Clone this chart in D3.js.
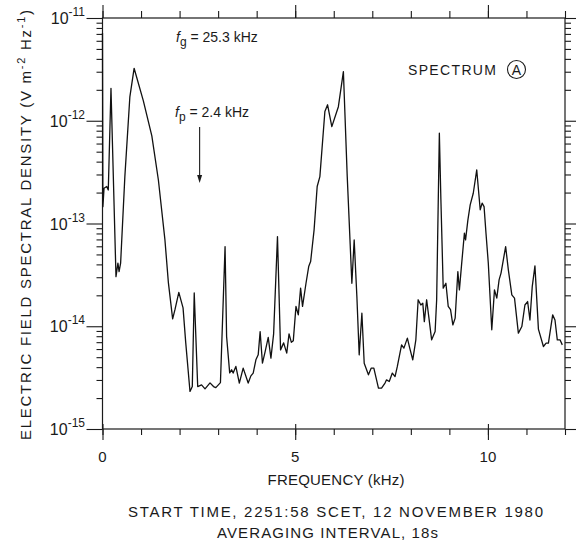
<!DOCTYPE html>
<html>
<head>
<meta charset="utf-8">
<script src="https://cdn.jsdelivr.net/npm/d3@7"></script>
<style>
  body { margin: 0; background: #fff; }
  text { font-family: "Liberation Sans", Arial, sans-serif; fill: #1a1a1a; }
  .tick line { stroke: #1a1a1a; stroke-width: 1.1; }
</style>
</head>
<body>
<svg id="spectrum"></svg>
<script>
// frequency (kHz) and electric field spectral density (V^2 m^-2 Hz^-1)
const freq = [0.00, 0.01, 0.04, 0.11, 0.15, 0.22, 0.35, 0.40, 0.43, 0.47,
  0.58, 0.71, 0.82, 1.06, 1.28, 1.45, 1.62, 1.71, 1.82, 1.88,
  1.98, 2.09, 2.16, 2.27, 2.33, 2.38, 2.47, 2.57, 2.66, 2.79,
  2.88, 2.94, 3.06, 3.18, 3.22, 3.30, 3.35, 3.39, 3.46, 3.55,
  3.65, 3.78, 3.85, 3.91, 3.98, 4.04, 4.09, 4.15, 4.22, 4.30,
  4.37, 4.44, 4.54, 4.62, 4.70, 4.78, 4.84, 4.90, 4.95, 5.02,
  5.08, 5.14, 5.19, 5.28, 5.35, 5.40, 5.49, 5.57, 5.64, 5.77,
  5.84, 5.95, 6.12, 6.25, 6.35, 6.47, 6.53, 6.60, 6.66, 6.73,
  6.79, 6.90, 6.97, 7.04, 7.16, 7.24, 7.33, 7.37, 7.44, 7.52,
  7.59, 7.65, 7.76, 7.82, 7.91, 7.97, 8.05, 8.13, 8.19, 8.26,
  8.31, 8.35, 8.41, 8.47, 8.54, 8.63, 8.67, 8.74, 8.78, 8.84,
  8.91, 8.97, 9.03, 9.09, 9.15, 9.22, 9.26, 9.32, 9.39, 9.42,
  9.48, 9.54, 9.62, 9.71, 9.80, 9.85, 9.90, 9.95, 10.01, 10.10,
  10.17, 10.23, 10.29, 10.34, 10.40, 10.46, 10.53, 10.62, 10.69, 10.79,
  10.88, 10.96, 11.03, 11.09, 11.15, 11.22, 11.31, 11.44, 11.51, 11.57,
  11.68, 11.74, 11.80, 11.87, 11.93];

const density = [7.14e-12, 1.46e-13, 2.20e-13, 2.29e-13, 2.12e-13, 2.07e-12, 3.04e-14, 4.11e-14, 3.40e-14, 4.11e-14,
  2.86e-13, 1.71e-12, 3.24e-12, 1.56e-12, 7.11e-13, 2.65e-13, 6.92e-14, 2.64e-14, 1.18e-14, 1.45e-14,
  2.14e-14, 1.51e-14, 6.89e-15, 2.32e-15, 2.59e-15, 2.11e-14, 2.59e-15, 2.69e-15, 2.46e-15, 2.81e-15,
  2.59e-15, 2.53e-15, 2.83e-15, 5.96e-14, 7.94e-15, 3.52e-15, 3.77e-15, 3.50e-15, 4.06e-15, 2.80e-15,
  3.91e-15, 2.80e-15, 3.29e-15, 3.50e-15, 4.71e-15, 5.27e-15, 8.87e-15, 4.37e-15, 5.67e-15, 7.80e-15,
  4.90e-15, 8.43e-15, 7.46e-14, 5.89e-15, 6.89e-15, 5.47e-15, 8.43e-15, 6.97e-15, 7.21e-15, 1.56e-14,
  1.29e-14, 2.35e-14, 1.56e-14, 2.62e-14, 3.81e-14, 4.26e-14, 8.67e-14, 2.29e-13, 2.86e-13, 1.23e-12,
  1.43e-12, 8.77e-13, 1.37e-12, 3.01e-12, 2.86e-13, 2.62e-14, 6.92e-14, 1.95e-14, 5.27e-15, 1.34e-14,
  4.37e-15, 3.37e-15, 3.91e-15, 3.91e-15, 2.50e-15, 2.50e-15, 2.80e-15, 3.01e-15, 2.90e-15, 3.50e-15,
  3.24e-15, 4.06e-15, 6.59e-15, 6.12e-15, 7.66e-15, 6.17e-15, 4.71e-15, 7.38e-15, 1.81e-14, 1.61e-14,
  1.68e-14, 1.11e-14, 1.81e-14, 1.20e-14, 7.38e-15, 8.87e-15, 1.81e-14, 7.56e-13, 1.70e-13, 2.35e-14,
  2.62e-14, 1.56e-14, 1.45e-14, 1.03e-14, 1.20e-14, 3.40e-14, 2.26e-14, 4.11e-14, 8.05e-14, 6.92e-14,
  1.08e-13, 1.52e-13, 1.97e-13, 3.32e-13, 1.36e-13, 1.58e-13, 1.46e-13, 8.05e-14, 4.11e-14, 9.23e-15,
  2.26e-14, 1.88e-14, 2.83e-14, 3.29e-14, 4.43e-14, 5.96e-14, 3.54e-14, 2.02e-14, 1.88e-14, 8.57e-15,
  9.93e-15, 1.61e-14, 1.74e-14, 1.15e-14, 2.43e-14, 3.87e-14, 9.38e-15, 6.35e-15, 6.85e-15, 6.85e-15,
  1.29e-14, 1.15e-14, 7.38e-15, 7.38e-15, 6.59e-15];

const xTicks = [0, 1, 2, 3, 4, 5, 6, 7, 8, 9, 10, 11, 12];
const xMajor = [0, 5, 10];
const decades = [1e-15, 1e-14, 1e-13, 1e-12, 1e-11];
const decadeExp = ["-15", "-14", "-13", "-12", "-11"];
const fpArrowFreq = 2.52;

const svgWidth = 578, svgHeight = 545;
const plotLeft = 102.5, plotRight = 565, plotTop = 18, plotBottom = 429;

const svg = d3.select("#spectrum")
  .attr("width", svgWidth)
  .attr("height", svgHeight);

const x = d3.scaleLinear().domain([0, 12]).range([plotLeft, plotRight]);
const y = d3.scaleLog().domain([1e-15, 1e-11]).range([plotBottom, plotTop]);

// minor log ticks, 2..9 in each decade
const yMinor = [];
decades.slice(0, -1).forEach(function (d) {
  for (let k = 2; k <= 9; k++) yMinor.push(d * k);
});

function axis(gen, values, size, tx, ty) {
  const g = svg.append("g")
    .attr("transform", "translate(" + tx + "," + ty + ")")
    .call(gen.tickValues(values).tickSize(size).tickSizeOuter(0).tickFormat(""));
  g.select(".domain").remove();
  return g;
}

axis(d3.axisBottom(x), xTicks, 6, 0, plotBottom);
axis(d3.axisBottom(x), xMajor, 11, 0, plotBottom).selectAll("line").attr("y1", -5);
axis(d3.axisTop(x), xTicks, 7, 0, plotTop);
axis(d3.axisTop(x), xMajor, 13, 0, plotTop);
axis(d3.axisLeft(y), yMinor, 6, plotLeft, 0);
axis(d3.axisLeft(y), decades, 16, plotLeft, 0);
axis(d3.axisRight(y), yMinor, 6, plotRight, 0);
axis(d3.axisRight(y), decades, 11, plotRight, 0);

svg.append("rect")
  .attr("x", plotLeft).attr("y", plotTop)
  .attr("width", plotRight - plotLeft).attr("height", plotBottom - plotTop)
  .attr("fill", "none").attr("stroke", "#1a1a1a").attr("stroke-width", 1.2);

// tick labels
svg.selectAll(".xlab")
  .data(xMajor)
  .enter()
  .append("text")
  .attr("x", function (d) { return x(d); })
  .attr("y", 462)
  .attr("text-anchor", "middle")
  .attr("font-size", 15)
  .text(function (d) { return d; });

const ylab = svg.selectAll(".ylab")
  .data(decades)
  .enter()
  .append("text")
  .attr("x", 85)
  .attr("y", function (d) { return y(d) + 6; })
  .attr("text-anchor", "end")
  .attr("font-size", 16);
ylab.append("tspan").text("10");
ylab.append("tspan")
  .attr("dy", -8)
  .attr("font-size", 12)
  .text(function (d, i) { return decadeExp[i]; });

// the spectrum
const line = d3.line()
  .x(function (d, i) { return x(freq[i]); })
  .y(function (d) { return y(d); });

svg.append("path")
  .datum(density)
  .attr("d", line)
  .attr("fill", "none")
  .attr("stroke", "#111")
  .attr("stroke-width", 1.3)
  .attr("stroke-linejoin", "round");

// axis titles
svg.append("text")
  .attr("x", 336).attr("y", 485)
  .attr("text-anchor", "middle")
  .attr("font-size", 15)
  .attr("textLength", 137).attr("lengthAdjust", "spacing")
  .text("FREQUENCY (kHz)");

svg.append("text")
  .attr("x", 335.5).attr("y", 517)
  .attr("text-anchor", "middle")
  .attr("font-size", 15)
  .attr("textLength", 415).attr("lengthAdjust", "spacing")
  .text("START TIME, 2251:58 SCET, 12 NOVEMBER  1980");

svg.append("text")
  .attr("x", 327.5).attr("y", 538)
  .attr("text-anchor", "middle")
  .attr("font-size", 15)
  .attr("textLength", 221).attr("lengthAdjust", "spacing")
  .text("AVERAGING INTERVAL, 18s");

const yt = svg.append("text")
  .attr("transform", "translate(31,225) rotate(-90)")
  .attr("text-anchor", "middle")
  .attr("font-size", 15)
  .attr("textLength", 430).attr("lengthAdjust", "spacing");
yt.append("tspan").text("ELECTRIC FIELD SPECTRAL DENSITY (V m");
yt.append("tspan").attr("dy", -6).attr("font-size", 11).text("-2");
yt.append("tspan").attr("dy", 6).text(" Hz");
yt.append("tspan").attr("dy", -6).attr("font-size", 11).text("-1");
yt.append("tspan").attr("dy", 6).text(")");

// annotations
const fg = svg.append("text").attr("x", 176).attr("y", 42).attr("font-size", 14);
fg.append("tspan").attr("font-style", "italic").text("f");
fg.append("tspan").attr("dy", 4).attr("font-size", 12).text("g");
fg.append("tspan").attr("dy", -4).text(" = 25.3 kHz");

const fp = svg.append("text").attr("x", 175).attr("y", 117).attr("font-size", 14);
fp.append("tspan").attr("font-style", "italic").text("f");
fp.append("tspan").attr("dy", 4).attr("font-size", 12).text("p");
fp.append("tspan").attr("dy", -4).text(" = 2.4 kHz");

svg.append("line")
  .attr("x1", x(fpArrowFreq)).attr("x2", x(fpArrowFreq))
  .attr("y1", 127).attr("y2", 176)
  .attr("stroke", "#1a1a1a").attr("stroke-width", 1.1);
svg.append("path")
  .attr("d", "M" + (x(fpArrowFreq) - 2.5) + ",175 L" + (x(fpArrowFreq) + 2.5) + ",175 L" + x(fpArrowFreq) + ",183 Z")
  .attr("fill", "#1a1a1a");

svg.append("text")
  .attr("x", 408).attr("y", 75)
  .attr("font-size", 14)
  .attr("textLength", 88).attr("lengthAdjust", "spacing")
  .text("SPECTRUM");
svg.append("circle")
  .attr("cx", 516.5).attr("cy", 69.5).attr("r", 9)
  .attr("fill", "none").attr("stroke", "#1a1a1a").attr("stroke-width", 1.1);
svg.append("text")
  .attr("x", 516.5).attr("y", 74.5)
  .attr("text-anchor", "middle")
  .attr("font-size", 14)
  .text("A");
</script>
</body>
</html>
